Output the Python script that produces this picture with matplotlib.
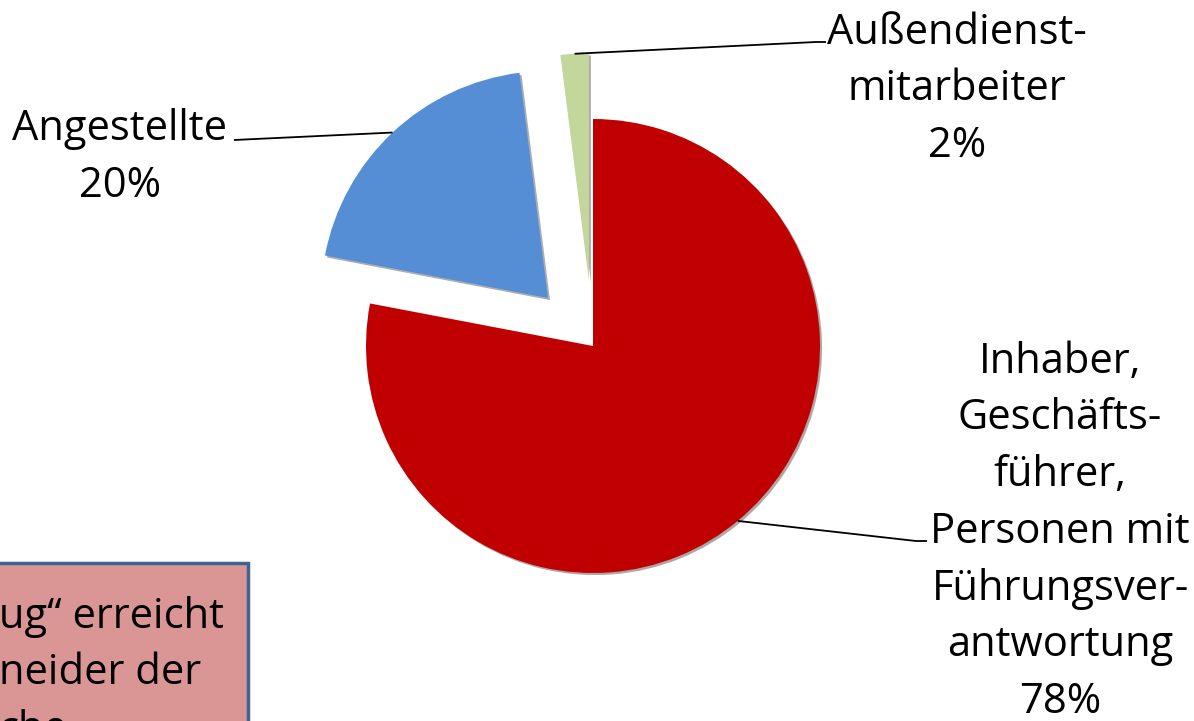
import numpy as np
import matplotlib
matplotlib.use("Agg")
import matplotlib.pyplot as plt
from matplotlib.patches import Rectangle

# data
categories = ["Inhaber,\nGeschäfts-\nführer,\nPersonen mit\nFührungsver-\nantwortung",
              "Angestellte",
              "Außendienst-\nmitarbeiter"]
shares = [78, 20, 2]
colors = ["#C00000", "#558ED5", "#C3D69B"]
explode = [0, 0.29, 0.29]
note_lines = ["ug\u201c erreicht", "neider der", "che"]

W, H = 1194, 721
plt.rcParams["font.family"] = ["Open Sans", "DejaVu Sans"]

fig = plt.figure(figsize=(W / 100, H / 100), dpi=100)
ax = fig.add_axes([0, 0, 1, 1])

cx, cy, r = 593, H - 346, 227
# pie's explode is in data units, so scale by the radius
wedges, _ = ax.pie(shares, colors=colors, explode=[e * r for e in explode],
                   startangle=90, counterclock=False, center=(cx, cy), radius=r,
                   wedgeprops=dict(linewidth=0),
                   shadow=dict(ox=1.5, oy=-1.5, shade=0.85, alpha=0.35))
ax.set_xlim(0, W)
ax.set_ylim(0, H)
ax.axis("off")

# label layout (pixel coords, y from top; y = last-line baseline)
label_pos = [(1060, 713), (120, 197), (957, 157)]
line_end = [(927, 541), (234, 140), (826, 42)]
elbow = [(916, 541), None, (816, 42)]

for w, cat, val, (lx, ly), (ex, ey), el in zip(wedges, categories, shares,
                                               label_pos, line_end, elbow):
    ang = np.deg2rad((w.theta1 + w.theta2) / 2)
    px = w.center[0] + w.r * np.cos(ang)
    py = w.center[1] + w.r * np.sin(ang)
    xs, ys = [px], [py]
    if el is not None:
        xs.append(el[0]); ys.append(H - el[1])
    xs.append(ex); ys.append(H - ey)
    ax.plot(xs, ys, color="black", lw=1.3, solid_capstyle="butt")
    ax.text(lx, H - ly, f"{cat}\n{val}%", ha="center", va="baseline",
            fontsize=30, linespacing=1.46, color="black")

# note box, cut off at the left and bottom
ax.add_patch(Rectangle((-20, -20), 268, H - 563 + 20, facecolor="#D99694",
                       edgecolor="#3F6490", lw=2.5, zorder=3))
ax.text(-1, H - 741, "\n".join(note_lines), ha="left", va="baseline",
        fontsize=30, linespacing=1.46, color="black", zorder=4)

fig.savefig("out.png", dpi=100)
